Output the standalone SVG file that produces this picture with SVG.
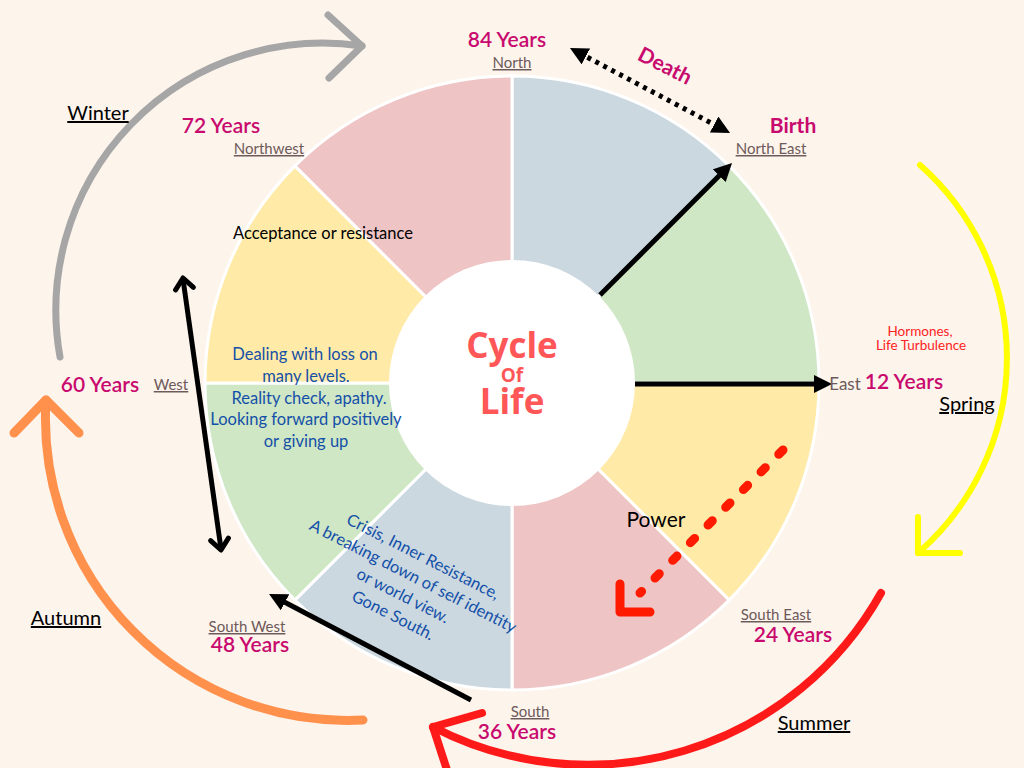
<svg xmlns="http://www.w3.org/2000/svg" width="1024" height="768" viewBox="0 0 1024 768">
<style>
text{font-family:Lato,"Open Sans","Liberation Sans",sans-serif;text-anchor:middle}
.yr{fill:#c80a6e;font-size:21px;font-weight:600}
.dir{fill:#6e5a5a;font-size:15px;text-decoration:underline}
.season{fill:#000;font-size:20px;text-decoration:underline}
.blue{fill:#1450a8;font-size:16.5px}
.seg{stroke:#fff;stroke-width:3}
.b{fill:#cbd8e0}.g{fill:#cfe7c5}.y{fill:#ffeaa7}.p{fill:#efc4c4}
.title{fill:#ff5757;font-family:"Open Sans",Lato,sans-serif;font-weight:700}
.blk{fill:none;stroke:#000;stroke-width:5}
.chev{fill:none;stroke-linecap:round;stroke-linejoin:round}
</style>
<defs>
<marker id="ah" viewBox="0 0 10 10" refX="4" refY="5" markerWidth="18" markerHeight="18" markerUnits="userSpaceOnUse" orient="auto-start-reverse"><path d="M0,0 L10,5 L0,10 z" fill="#000"/></marker>
</defs>
<rect width="1024" height="768" fill="#fdf4ec"/>

<g id="ring">
<g id="seg-n-ne"><path class="seg b" d="M512 383 L512 76 A307 307 0 0 1 729.1 165.9 Z"/></g>
<g id="seg-ne-e"><path class="seg g" d="M512 383 L729.1 165.9 A307 307 0 0 1 819 383 Z"/></g>
<g id="seg-e-se"><path class="seg y" d="M512 383 L819 383 A307 307 0 0 1 729.1 600.1 Z"/></g>
<g id="seg-se-s"><path class="seg p" d="M512 383 L729.1 600.1 A307 307 0 0 1 512 690 Z"/></g>
<g id="seg-s-sw"><path class="seg b" d="M512 383 L512 690 A307 307 0 0 1 294.9 600.1 Z"/></g>
<g id="seg-sw-w"><path class="seg g" d="M512 383 L294.9 600.1 A307 307 0 0 1 205 383 Z"/></g>
<g id="seg-w-nw"><path class="seg y" d="M512 383 L205 383 A307 307 0 0 1 294.9 165.9 Z"/></g>
<g id="seg-nw-n"><path class="seg p" d="M512 383 L294.9 165.9 A307 307 0 0 1 512 76 Z"/></g>
</g>

<g id="center">
<circle cx="512" cy="383" r="123" fill="#fff"/>
<text class="title" x="512" y="358" font-size="35">Cycle</text>
<text class="title" x="512" y="382" font-size="19">Of</text>
<text class="title" x="512" y="414" font-size="35">Life</text>
</g>

<g id="connectors">
<path class="blk" d="M600 295 L724.4 170.6" marker-end="url(#ah)"/>
<path class="blk" d="M635 384 L821.2 384" marker-end="url(#ah)"/>
<path class="blk" d="M579.5 53.1 L720.5 127.9" stroke-dasharray="4 5" marker-start="url(#ah)" marker-end="url(#ah)"/>
<path class="blk" d="M471 700 L278.6 599" marker-end="url(#ah)"/>
<path class="blk" d="M183 279 L221 549"/>
<path class="blk chev" d="M175.6 289.9 L183 278 L193.4 287.4"/>
<path class="blk chev" d="M228.4 538.1 L221 550 L210.6 540.6"/>
<path fill="none" stroke="#ff1a00" stroke-width="9" stroke-linecap="round" stroke-dasharray="6 19" d="M783 450 L640 593"/>
<path class="chev" stroke="#ff1a00" stroke-width="9" d="M620 584 L620 612 L650 612"/>
<path class="chev" stroke="#a6a6a6" stroke-width="7" d="M60 357 A267 267 0 0 1 362 46"/>
<path class="chev" stroke="#a6a6a6" stroke-width="7" d="M328 15 L362 46 L329 78"/>
<path class="chev" stroke="#ffff00" stroke-width="6" d="M920 165 A258 258 0 0 1 918 553"/>
<path class="chev" stroke="#ffff00" stroke-width="6" d="M918 517 L918 553 L960 553"/>
<path class="chev" stroke="#ff1a1a" stroke-width="8" d="M881 593 A336 336 0 0 1 433 727"/>
<path class="chev" stroke="#ff1a1a" stroke-width="8" d="M482 713 L433 727 L447 770"/>
<path class="chev" stroke="#ff914d" stroke-width="9" d="M363 720 A302 302 0 0 1 46 400"/>
<path class="chev" stroke="#ff914d" stroke-width="9" d="M14 433 L46 400 L79 433"/>
</g>

<g id="north"><text class="yr" x="507" y="47">84 Years</text><text class="dir" x="512" y="68">North</text></g>
<g id="death"><text transform="translate(665 66) rotate(27)" y="7" fill="#c80a6e" font-size="21" font-weight="700">Death</text></g>
<g id="northeast"><text x="793" y="133" fill="#c80a6e" font-size="21" font-weight="700">Birth</text><text class="dir" x="771" y="154">North East</text></g>
<g id="northwest"><text class="yr" x="221" y="133">72 Years</text><text class="dir" x="269" y="154">Northwest</text></g>
<g id="winter"><text class="season" x="98" y="120">Winter</text></g>
<g id="acceptance"><text x="323" y="239" fill="#000" font-size="16.5">Acceptance or resistance</text></g>
<g id="dealing">
<text class="blue" x="305" y="360">Dealing with loss on</text>
<text class="blue" x="306" y="382">many levels.</text>
<text class="blue" x="309" y="404">Reality check, apathy.</text>
<text class="blue" x="306" y="425">Looking forward positively</text>
<text class="blue" x="306" y="447">or giving up</text>
</g>
<g id="west"><text class="yr" x="100" y="392">60 Years</text><text class="dir" x="171" y="390">West</text></g>
<g id="hormones">
<text x="920" y="336" fill="#ff2222" font-size="13.5">Hormones,</text>
<text x="921" y="350" fill="#ff2222" font-size="13.5">Life Turbulence</text>
</g>
<g id="east"><text x="845" y="390" fill="#6e5a5a" font-size="17">East</text><text class="yr" x="904" y="389">12 Years</text></g>
<g id="spring"><text class="season" x="967" y="411">Spring</text></g>
<g id="power"><text x="656" y="527" fill="#000" font-size="21">Power</text></g>
<g id="southeast"><text class="dir" x="776" y="620">South East</text><text class="yr" x="793" y="642">24 Years</text></g>
<g id="south"><text class="dir" x="530" y="717">South</text><text class="yr" x="517" y="739">36 Years</text></g>
<g id="summer"><text class="season" x="814" y="730">Summer</text></g>
<g id="autumn"><text class="season" x="66" y="625">Autumn</text></g>
<g id="southwest"><text class="dir" x="247" y="632">South West</text><text class="yr" x="250" y="652">48 Years</text></g>
<g id="crisis" transform="translate(408 586) rotate(27)">
<text class="blue" y="-27.5">Crisis, Inner Resistance,</text>
<text class="blue" y="-5.5">A breaking down of self identity</text>
<text class="blue" y="16.5">or world view.</text>
<text class="blue" y="38.5">Gone South.</text>
</g>
</svg>
